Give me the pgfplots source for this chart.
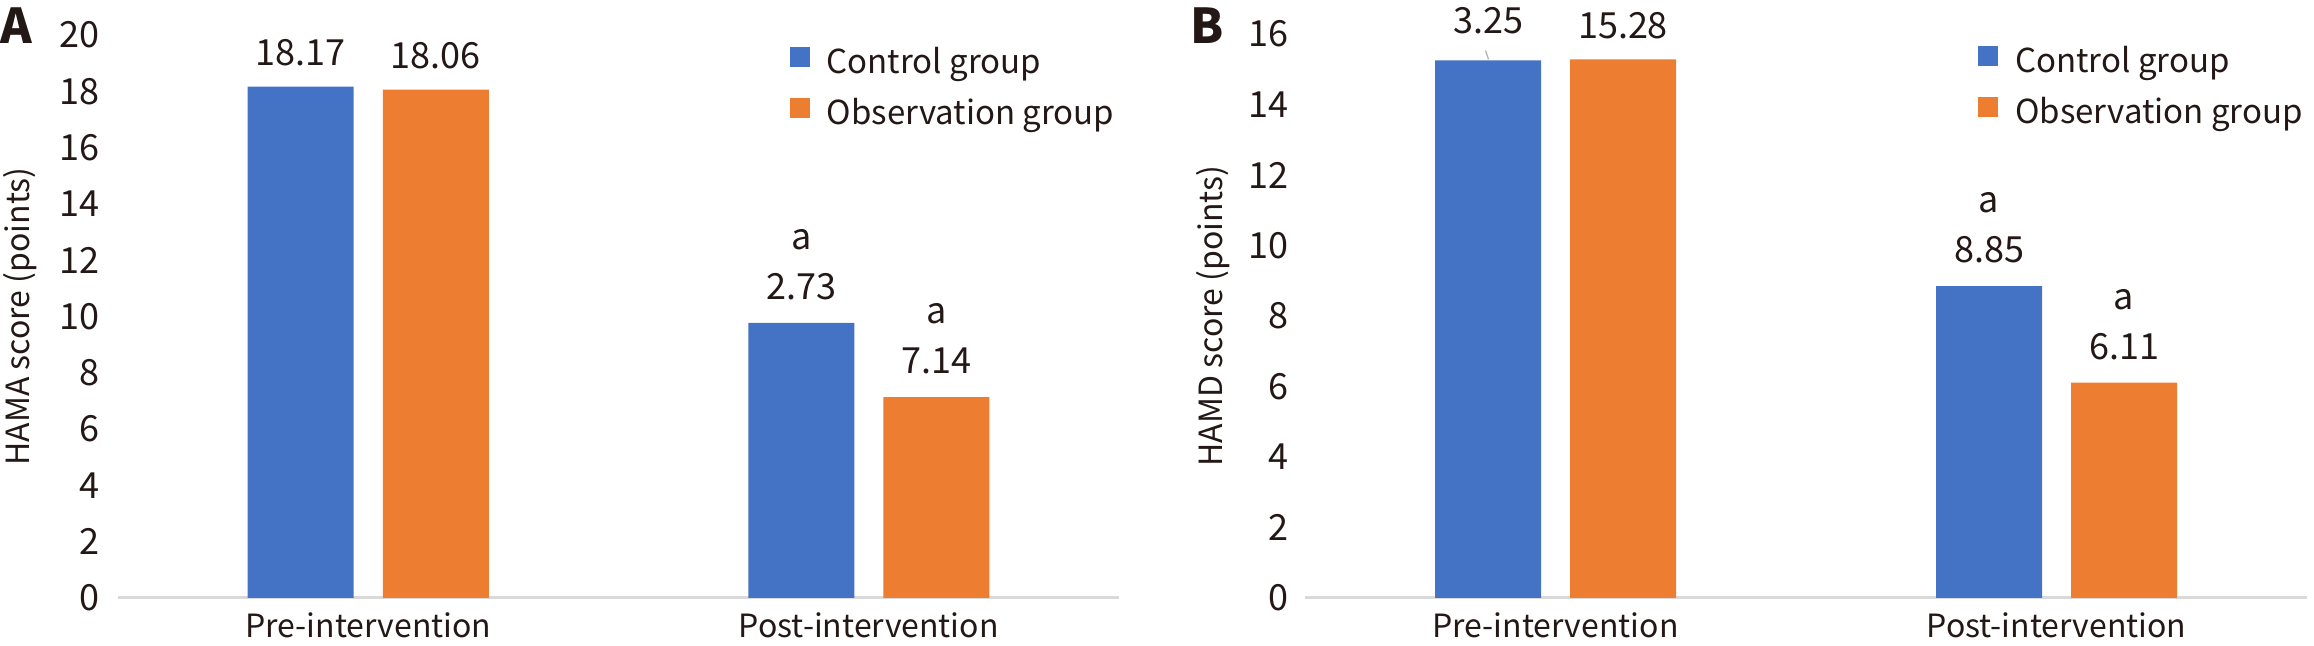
\documentclass[border=0pt]{standalone}
\usepackage{fontspec}
\setmainfont{Noto Sans CJK SC}
\usepackage{pgfplots}
\pgfplotsset{compat=1.18}

\definecolor{ctrl}{HTML}{4472C4}
\definecolor{obs}{HTML}{ED7D31}
\definecolor{axgray}{HTML}{D9D9D9}
\definecolor{txt}{HTML}{231815}

\tikzset{lab/.style={font=\fontsize{18}{20}\selectfont, text=txt, inner sep=0pt, anchor=center}}

\pgfplotsset{
  panel/.style={
    scale only axis,
    anchor=south west,
    xmin=-0.5, xmax=1.5, ymin=0,
    xtick={0,1},
    xticklabels={Pre-intervention,Post-intervention},
    axis lines=left,
    x axis line style={-, draw=axgray, line width=1.5pt},
    y axis line style={draw=none},
    major tick length=0pt,
    tick label style={font=\fontsize{18}{20}\selectfont, text=txt},
    /pgf/number format/assume math mode=true,
    xticklabel style={inner sep=0pt, anchor=north, yshift=-7pt, font=\fontsize{16}{18}\selectfont},
    yticklabel style={inner sep=0pt, anchor=east, xshift=-9pt},
    label style={font=\fontsize{16}{18}\selectfont, text=txt},
    clip=false,
    ybar=14.5pt, bar width=53pt,
    legend cell align=left,
    legend style={draw=none, fill=none, inner sep=0pt, outer sep=0pt,
      anchor=north west, font=\fontsize{16.5}{18}\selectfont, text=txt,
      nodes={inner sep=0pt, text height=12pt, text depth=4pt},
      /tikz/every odd column/.append style={column sep=8.5pt},
      row sep=8pt},
    legend image code/.code={\fill[#1, draw=none] (0pt,-0.5pt) rectangle (10pt,9.5pt);},
  },
}

\begin{document}
\begin{tikzpicture}
\useasboundingbox (0pt,0pt) rectangle (1157pt,323pt);

% Panel A: HAMA
\begin{axis}[panel,
  at={(59pt,24pt)}, width=500.5pt, height=281.5pt,
  ymax=20, ytick={0,2,...,20},
  ylabel={HAMA score (points)},
  ylabel style={at={(axis description cs:-0.098,0.5)}, anchor=center},
  legend style={at={(axis description cs:0.671,0.979)}},
]
\addplot[fill=ctrl, draw=none] coordinates {(0,18.17) (1,9.77)};
\addplot[fill=obs, draw=none] coordinates {(0,18.06) (1,7.14)};
\legend{Control group, Observation group}
\node[lab, xshift=-33.75pt, yshift=17pt] at (axis cs:0,18.17) {18.17};
\node[lab, xshift=33.75pt, yshift=17pt] at (axis cs:0,18.06) {18.06};
\node[lab, xshift=-33.75pt, yshift=18pt] at (axis cs:1,9.77) {2.73};
\node[lab, xshift=-33.75pt, yshift=41.5pt] at (axis cs:1,9.77) {a};
\node[lab, xshift=33.75pt, yshift=18pt] at (axis cs:1,7.14) {7.14};
\node[lab, xshift=33.75pt, yshift=41.5pt] at (axis cs:1,7.14) {a};
\end{axis}

% Panel B: HAMD
\begin{axis}[panel,
  at={(652.5pt,24pt)}, width=501pt, height=282pt,
  ymax=16, ytick={0,2,...,16},
  ylabel={HAMD score (points)},
  ylabel style={at={(axis description cs:-0.092,0.5)}, anchor=center},
  yticklabel style={xshift=1pt},
  legend style={at={(axis description cs:0.672,0.979)}},
]
\addplot[fill=ctrl, draw=none] coordinates {(0,15.25) (1,8.85)};
\addplot[fill=obs, draw=none] coordinates {(0,15.28) (1,6.11)};
\legend{Control group, Observation group}
\node[lab, xshift=-33.75pt, yshift=20pt] at (axis cs:0,15.25) {3.25};
\draw[gray!60, line width=0.6pt] ([xshift=-35pt, yshift=5pt]axis cs:0,15.25) -- ([xshift=-33.5pt, yshift=0.5pt]axis cs:0,15.25);
\node[lab, xshift=33.75pt, yshift=17pt] at (axis cs:0,15.28) {15.28};
\node[lab, xshift=-33.75pt, yshift=18pt] at (axis cs:1,8.85) {8.85};
\node[lab, xshift=-33.75pt, yshift=41.5pt] at (axis cs:1,8.85) {a};
\node[lab, xshift=33.75pt, yshift=18pt] at (axis cs:1,6.11) {6.11};
\node[lab, xshift=33.75pt, yshift=41.5pt] at (axis cs:1,6.11) {a};
\end{axis}

\node[font=\fontsize{24}{26}\selectfont\bfseries, text=txt, inner sep=0pt] at (8pt,310pt) {A};
\node[font=\fontsize{24}{26}\selectfont\bfseries, text=txt, inner sep=0pt] at (603.5pt,310pt) {B};
\end{tikzpicture}
\end{document}
